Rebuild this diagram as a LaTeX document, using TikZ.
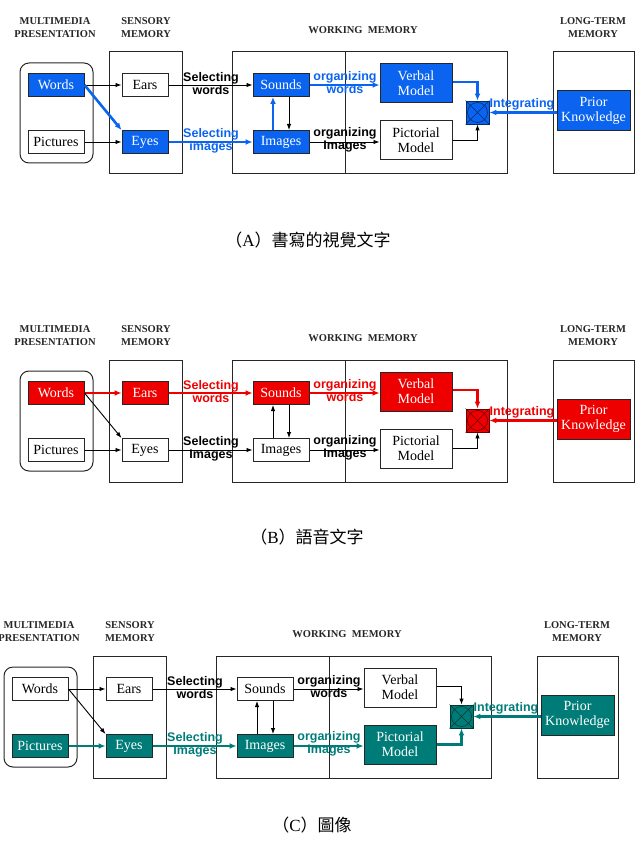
\documentclass[tikz,border=0pt]{standalone}
\usepackage{fontspec}
\setmainfont{Liberation Serif}
\newfontfamily\lblfont{Liberation Sans}
\newfontfamily\cjk{Noto Sans CJK TC}
\usetikzlibrary{positioning,arrows.meta}
\definecolor{blueA}{HTML}{0A64F0}
\definecolor{redB}{HTML}{EE0000}
\definecolor{tealC}{HTML}{007C78}

% one panel of the model: prefix, shift, highlight colour, highlight keys, "images" word
\newcommand{\mayerpanel}[5]{%
\begin{scope}[shift={#2}, #4]
\colorlet{hl}{#3}
\node[hdr] (#1hm) at (55,28) {MULTIMEDIA\\PRESENTATION};
\node[hdr] (#1hs) at (146,28) {SENSORY\\MEMORY};
\node[hdr] (#1hw) at (363,30) {WORKING\ \ MEMORY};
\node[hdr] (#1hl) at (593,28) {LONG-TERM\\MEMORY};
\draw[frame, rounded corners=9pt] (20,63) rectangle (93,163);
\draw[frame] (109,52) rectangle (182,174);
\draw[frame] (232,52) rectangle (507,174) (345,52) -- (345,174);
\draw[frame] (553,52) rectangle (634,174);
\node[wbox, fWords] (#1words) at (56,85) {Words};
\node[wbox, fPictures] (#1pics) at (56,142) {Pictures};
\node[sbox, fEars] (#1ears) at (145,85) {Ears};
\node[sbox, fEyes] (#1eyes) at (145,142) {Eyes};
\node[wbox, fSounds] (#1snd) at (281,85) {Sounds};
\node[wbox, fImages] (#1img) at (281,142) {Images};
\node[mbox, fVerbal] (#1verb) at (416,83.5) {Verbal\\Model};
\node[mbox, fPictorial] (#1pict) at (416,140.5) {Pictorial\\Model};
\node[integ] (#1int) at (477.5,112.5) {};
\draw[draw=hl!45!black, line width=0.6pt] (#1int.north west) -- (#1int.south east)
  (#1int.north east) -- (#1int.south west) (#1int.center) circle (10pt);
\node[mbox, hot, minimum width=73pt, minimum height=40pt] (#1prior) at (593.5,111) {Prior\\Knowledge};
\draw[arr, aWE] (#1words) -- (#1ears);
\draw[arr, aWY] (#1words.east) -- (#1eyes.north west);
\draw[arr, aPY] (#1pics) -- (#1eyes);
\draw[arr, aES] (#1ears) -- (#1snd);
\draw[arr, aYI] (#1eyes) -- (#1img);
\draw[arr, aIS] ([xshift=-8pt]#1img.north) -- ([xshift=-8pt]#1snd.south);
\draw[arr, aSI] ([xshift=8pt]#1snd.south) -- ([xshift=8pt]#1img.north);
\draw[arr, aSV] (#1snd) -- (#1snd -| #1verb.west);
\draw[arr, aIP] (#1img) -- (#1img -| #1pict.west);
\draw[arr, aVX] ([yshift=1.5pt]#1verb.east) -| (#1int.north);
\draw[arr, aPX] (#1pict.east) -| (#1int.south);
\draw[harr] (#1prior.west |- #1int) -- (#1int.east);
\node[lbl, lSW] (#1lsw) at (211,84) {Selecting\\words};
\node[lbl, lSI] (#1lsi) at (211,141) {Selecting\\#5};
\node[lbl, lOW] (#1low) at (345,83) {organizing\\words};
\node[lbl, lOI] (#1loi) at (345,140) {organizing\\Images};
\node[lbl, text=hl] (#1lint) at (522,104) {Integrating};
\end{scope}}

\begin{document}
\begin{tikzpicture}[x=1pt, y=-1pt,
  frame/.style={draw=black!85, line width=1pt},
  box/.style={draw=black!85, line width=1pt, fill=white, align=center, inner sep=1pt,
              font=\fontsize{14}{15}\selectfont},
  wbox/.style={box, minimum width=56pt, minimum height=23pt},
  sbox/.style={box, minimum width=46pt, minimum height=23pt},
  mbox/.style={box, minimum width=72pt, minimum height=39pt},
  integ/.style={draw=hl!45!black, line width=0.9pt, fill=hl, minimum size=23pt, inner sep=0pt},
  hot/.style={fill=hl, text=white},
  arr/.style={-{Latex[length=6pt,width=4.5pt]}, line width=0.9pt, draw=black},
  harr/.style={-{Latex[length=7pt,width=6pt]}, line width=2.6pt, draw=hl},
  lbl/.style={font=\lblfont\bfseries\fontsize{12.5}{13}\selectfont, align=center, inner sep=0pt},
  hdr/.style={font=\bfseries\fontsize{10.5}{13}\selectfont, align=center, text=black!85},
  caption/.style={font=\fontsize{17}{17}\selectfont},
  plain/.style={#1/.style={}},
  plain/.list={fWords,fPictures,fEars,fEyes,fSounds,fImages,fVerbal,fPictorial,
               aWE,aWY,aPY,aES,aYI,aIS,aSI,aSV,aIP,aVX,aPX,lSW,lSI,lOW,lOI},
  hbox/.style={#1/.style=hot},
  hline/.style={#1/.style=harr},
  htext/.style={#1/.style={text=hl}}]
\useasboundingbox (0,0) rectangle (638,850);
\mayerpanel{a}{(0,0)}{blueA}{hbox/.list={fWords,fEyes,fSounds,fImages,fVerbal},
  hline/.list={aWY,aYI,aIS,aSV,aVX}, htext/.list={lSI,lOW}}{images}
\node[caption] (capa) at (308,240) {{\cjk （}A{\cjk ）書寫的視覺文字}};
\mayerpanel{b}{(0,308)}{redB}{hbox/.list={fWords,fEars,fSounds,fVerbal},
  hline/.list={aWE,aES,aSV,aVX}, htext/.list={lSW,lOW}}{Images}
\node[caption] (capb) at (307,537) {{\cjk （}B{\cjk ）語音文字}};
\mayerpanel{c}{(-16,604)}{tealC}{hbox/.list={fPictures,fEyes,fImages,fPictorial},
  hline/.list={aPY,aYI,aIP,aPX}, htext/.list={lSI,lOI}}{Images}
\node[caption] (capc) at (312,825) {{\cjk （}C{\cjk ）圖像}};
\end{tikzpicture}
\end{document}
